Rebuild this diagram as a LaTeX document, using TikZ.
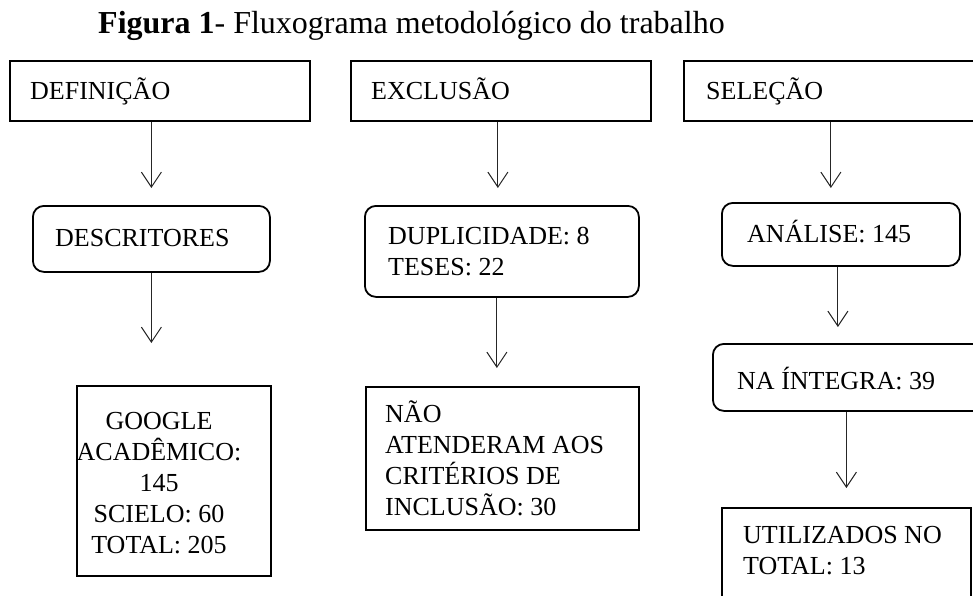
\documentclass[tikz,border=0pt]{standalone}
\usepackage{fontspec}
\setmainfont{Liberation Serif}
\usetikzlibrary{arrows.meta}
\newcommand\bxfont{\fontsize{26}{31}\selectfont}
\tikzset{
  box/.style={draw, line width=1.8pt, anchor=north west, inner sep=0pt},
  rbox/.style={box, rounded corners=11pt},
  txt/.style={anchor=base west, align=left, inner sep=0pt, font=\bxfont},
  ctxt/.style={anchor=base, align=center, inner sep=0pt, font=\bxfont},
  arr/.style={draw=black!85, line width=1pt, -{Straight Barb[length=15pt,width=20pt,line width=1pt]}},
}
\begin{document}
\begin{tikzpicture}[x=1pt,y=-1pt]
\useasboundingbox (0,0) rectangle (973,596);
\clip (0,0) rectangle (973,596);
% title
\node[anchor=base west, inner sep=0pt, font=\fontsize{32}{38}\selectfont] (title) at (98,34)
  {\textbf{Figura 1}- Fluxograma metodológico do trabalho};
% boxes
\node[box,  minimum width=300pt, minimum height=60pt] (def)  at (9,60) {};
\node[box,  minimum width=300pt, minimum height=60pt] (exc)  at (350,60) {};
\node[box,  minimum width=300pt, minimum height=60pt] (sel)  at (683,60) {};
\node[rbox, minimum width=237pt, minimum height=66pt] (desc) at (32,205) {};
\node[rbox, minimum width=274pt, minimum height=91pt] (dup)  at (364,205) {};
\node[rbox, minimum width=238pt, minimum height=63pt] (ana)  at (721,202) {};
\node[rbox, minimum width=273pt, minimum height=67pt] (int)  at (712,343) {};
\node[box,  minimum width=194pt, minimum height=190pt] (goo) at (76,385) {};
\node[box,  minimum width=273pt, minimum height=143pt] (nao) at (365,386) {};
\node[box,  minimum width=249pt, minimum height=100pt] (util) at (721,507) {};
% texts (base = baseline of the last line)
\node[txt] (tdef)  at (30,100)  {DEFINIÇÃO};
\node[txt] (texc)  at (371,100) {EXCLUSÃO};
\node[txt] (tsel)  at (706,100) {SELEÇÃO};
\node[txt] (tdesc) at (55,246)  {DESCRITORES};
\node[txt] (tdup)  at (388,275) {DUPLICIDADE: 8\\TESES: 22};
\node[txt] (tana)  at (747,242) {ANÁLISE: 145};
\node[txt] (tint)  at (737,389) {NA ÍNTEGRA: 39};
\node[ctxt] (tgoo) at (159,553) {GOOGLE\\ACADÊMICO:\\145\\SCIELO: 60\\TOTAL: 205};
\node[txt] (tnao)  at (385,515) {NÃO\\ATENDERAM AOS\\CRITÉRIOS DE\\INCLUSÃO: 30};
\node[txt] (tutil) at (743,574) {UTILIZADOS NO\\TOTAL: 13};
% arrows
\draw[arr, shorten >=17pt] (def.south -| desc.north) -- (desc.north);
\draw[arr, shorten >=42pt] (desc.south) -- (desc.south |- goo.north);
\draw[arr, shorten >=17pt] ([xshift=-4pt]exc.south -| dup.north) -- ([xshift=-4pt]dup.north);
\draw[arr, shorten >=18pt] ([xshift=-5pt]dup.south) -- ([xshift=-5pt]dup.south |- nao.north);
\draw[arr, shorten >=14pt] ([xshift=-10pt]sel.south -| ana.north) -- ([xshift=-10pt]ana.north);
\draw[arr, shorten >=16pt] ([xshift=-3pt]ana.south) -- ([xshift=-3pt]ana.south |- int.north);
\draw[arr, shorten >=19pt] (int.south -| util.north) -- (util.north);
\end{tikzpicture}
\end{document}
